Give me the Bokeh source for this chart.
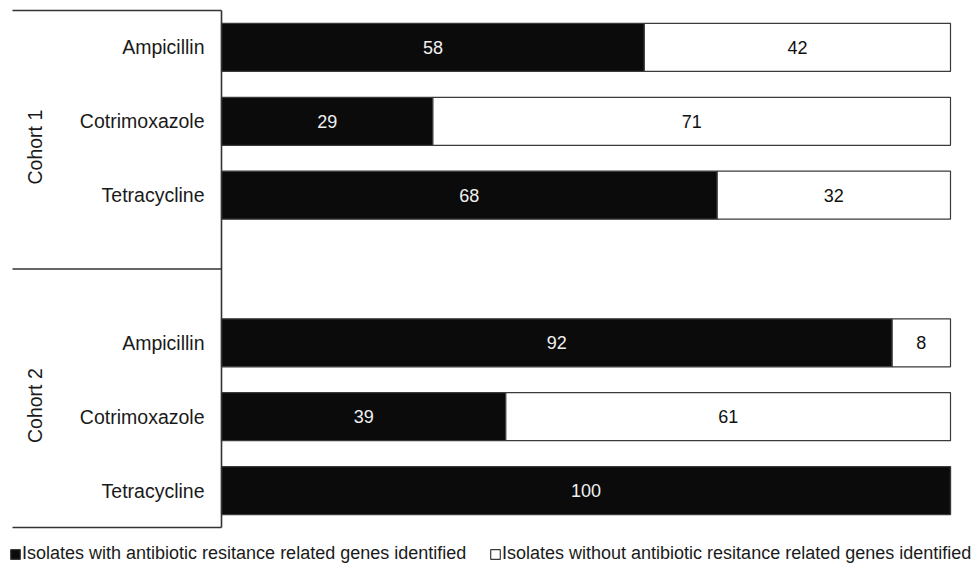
from bokeh.plotting import figure
from bokeh.models import Range1d, ColumnDataSource, Legend, LegendItem
from bokeh.core.properties import value
from bokeh.embed import file_html
from bokeh.resources import INLINE
import math

# ---- data ----
cohorts = ["Cohort 1", "Cohort 2"]
drugs = ["Ampicillin", "Cotrimoxazole", "Tetracycline"]
with_genes = {"Cohort 1": [58, 29, 68], "Cohort 2": [92, 39, 100]}
without_genes = {"Cohort 1": [42, 71, 32], "Cohort 2": [8, 61, 0]}
legend_labels = ["Isolates with antibiotic resitance related genes identified",
                 "Isolates without antibiotic resitance related genes identified"]

FONT = "Liberation Sans"
W, H = 972, 564
PX_X = 7.29          # px per percent
X0 = 221             # pixel of x=0
SLOT = 73.857        # px per row slot
TOP = 10             # pixel of slot -0.5

x_range = Range1d((0 - X0) / PX_X, (W - X0) / PX_X)
y_range = Range1d((H - TOP) / SLOT - 0.5, -TOP / SLOT - 0.5)

p = figure(width=W, height=H, x_range=x_range, y_range=y_range,
           output_backend="svg", toolbar_location=None,
           x_axis_location=None, y_axis_location=None,
           min_border=0, min_border_left=0, min_border_right=0,
           min_border_top=0, min_border_bottom=0)
p.grid.visible = False
p.outline_line_color = None
p.background_fill_color = "white"
p.border_fill_color = "white"

n = len(drugs)
ys, lab, w_vals, wo_vals, coh_y = [], [], [], [], []
for ci, c in enumerate(cohorts):
    base = ci * (n + 1)
    for di, d in enumerate(drugs):
        ys.append(base + di)
        lab.append(d)
        w_vals.append(with_genes[c][di])
        wo_vals.append(without_genes[c][di])
    lo = -0.5 if ci == 0 else base - 1
    hi = n if ci == 0 else base + n - 0.5
    coh_y.append((lo + hi) / 2 + 0.1)

src = ColumnDataSource(dict(y=ys, drug=lab, w=w_vals, wo=wo_vals,
                            wo_left=w_vals,
                            wo_right=[a + b for a, b in zip(w_vals, wo_vals)]))

BH = 0.65
r_w = p.hbar(y="y", left=0, right="w", height=BH, source=src,
             fill_color="#0b0b0b", line_color="#3a3a3a", line_width=1.2)
r_wo = p.hbar(y="y", left="wo_left", right="wo_right", height=BH, source=src,
              fill_color="white", line_color="#3a3a3a", line_width=1.2)

# value labels
wl = [(a / 2, y, str(a)) for a, y in zip(w_vals, ys) if a > 0]
wol = [(a + b / 2, y, str(b)) for a, b, y in zip(w_vals, wo_vals, ys) if b > 0]
p.text(x=[t[0] for t in wl], y=[t[1] for t in wl], text=[t[2] for t in wl],
       text_align="center", text_baseline="middle", text_color="#f0f0f0",
       text_font=value(FONT), text_font_size="18px")
p.text(x=[t[0] for t in wol], y=[t[1] for t in wol], text=[t[2] for t in wol],
       text_align="center", text_baseline="middle", text_color="#111111",
       text_font=value(FONT), text_font_size="18px")

# category labels
p.text(x=[(204 - X0) / PX_X] * len(ys), y=ys, text=lab,
       text_align="right", text_baseline="middle", text_color="#1a1a1a",
       text_font=value(FONT), text_font_size="19.5px")

# cohort labels
p.text(x=[(34 - X0) / PX_X] * len(cohorts), y=coh_y, text=cohorts, angle=math.pi / 2,
       text_align="center", text_baseline="middle", text_color="#1a1a1a",
       text_font=value(FONT), text_font_size="19.5px")

# frame lines
lx0 = (12 - X0) / PX_X
ytop, ymid, ybot = -0.5, n, 2 * n + 0.5
p.segment(x0=[0, lx0, lx0, lx0], y0=[ytop, ytop, ymid, ybot],
          x1=[0, 0, 0, 0], y1=[ybot, ytop, ymid, ybot],
          line_color="#333333", line_width=1.6)

# legends
for r, label, loc in [(r_w, legend_labels[0], (9, 0)), (r_wo, legend_labels[1], (489, 0))]:
    lg = Legend(items=[LegendItem(label=label, renderers=[r])], location=loc,
                orientation="horizontal", glyph_width=12, glyph_height=12,
                label_standoff=1, padding=0, margin=0, spacing=0,
                border_line_color=None, background_fill_alpha=0,
                label_text_font=FONT, label_text_font_size="18px",
                label_text_color="#1a1a1a")
    p.add_layout(lg)

open("out.html", "w").write(file_html(p, INLINE))
